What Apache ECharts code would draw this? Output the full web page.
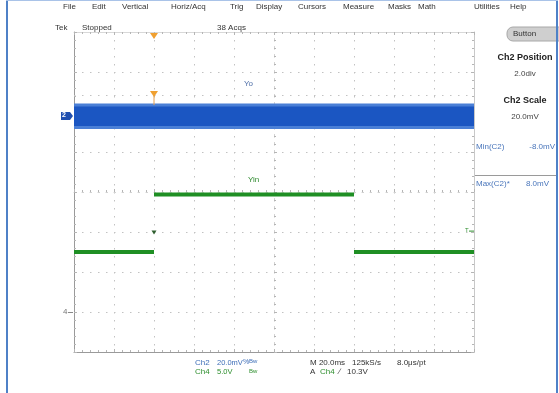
<!DOCTYPE html>
<html><head><meta charset="utf-8">
<script src="https://cdn.jsdelivr.net/npm/echarts@6/dist/echarts.min.js"></script>
<style>html,body{margin:0;padding:0;background:#fff}#c{width:559px;height:393px}</style>
</head><body><div id="c"></div>
<script>
// ---- labels ----
const menuItems = ['File','Edit','Vertical','Horiz/Acq','Trig','Display','Cursors','Measure','Masks','Math','Utilities','Help'];
const statusItems = ['Tek','Stopped','38 Acqs'];
const panelTexts = ['Ch2 Position','2.0div','Ch2 Scale','20.0mV'];
const measNames = ['Min(C2)','Max(C2)*'];
const measValues = ['-8.0mV','8.0mV'];
const waveLabels = ['Yo','Yin'];

// ---- scope settings ----
const timeScaleMs = 20;      // ms/div
const triggerDiv = 2;        // horizontal trigger position (div from left)
const ch2ScaleMv = 20;       // mV/div
const ch2PositionDiv = 2.0;
const ch4ScaleV = 5;         // V/div
const ch4PositionDiv = -3.0;
const triggerLevelV = 10.3;

// ---- Ch2 (Yo): noise envelope, mV ----
const ch2TimesMs = [-40, 160];
const ch2MeanMv = [-2, -2];
const ch2PeakLowMv = [-8.5, -8.5];
const ch2PeakHighMv = [4.2, 4.2];
const ch2CoreLowMv = [-7, -7];
const ch2CoreHighMv = [2.8, 2.8];

// ---- Ch4 (Yin): step, V ----
const ch4TimesMs = [-40, 0, 0, 100, 100, 160];
const ch4Volts = [7.5, 7.5, 14.7, 14.7, 7.5, 7.5];

const tx = t => triggerDiv + t / timeScaleMs;
const c2 = mv => ch2PositionDiv + mv / ch2ScaleMv;
const c4 = v => ch4PositionDiv + v / ch4ScaleV;

const peakBand = [[tx(ch2TimesMs[0]), tx(ch2TimesMs[1]), c2(ch2PeakLowMv[0]), c2(ch2PeakHighMv[0])]];
const coreBand = [[tx(ch2TimesMs[0]), tx(ch2TimesMs[1]), c2(ch2CoreLowMv[0]), c2(ch2CoreHighMv[0])]];
const ch4Data = [];
for (let i = 0; i < ch4TimesMs.length; i += 2) {
  if (i > 0) ch4Data.push([tx(ch4TimesMs[i]), '-']);
  ch4Data.push([tx(ch4TimesMs[i]), c4(ch4Volts[i])]);
  ch4Data.push([tx(ch4TimesMs[i+1]), c4(ch4Volts[i+1])]);
}

const G = {left:74, top:32, width:400, height:320};
const dotted = {color:'#c2c2c2', width:1, type:[1.5,6.5]};
const F = 'Liberation Sans, Arial, sans-serif';
const tickC = {color:'#b5b5b5'};

function valAxis(extra){
  return Object.assign({type:'value', axisLabel:{show:false},
    axisTick:{show:true, inside:true, length:3, lineStyle:tickC},
    minorTick:{show:true, splitNumber:5, length:2, lineStyle:tickC},
    splitLine:{show:false}}, extra);
}
function bandSeries(data, color, z){
  return {type:'custom', xAxisIndex:0, yAxisIndex:0, data:data, silent:true, z:z,
    encode:{x:[0,1], y:[2,3]},
    renderItem:function(params, api){
      const a = api.coord([api.value(0), api.value(3)]);
      const b = api.coord([api.value(1), api.value(2)]);
      return {type:'rect', shape:{x:a[0], y:a[1], width:b[0]-a[0], height:b[1]-a[1]}, style:{fill:color}};
    }};
}

const chart = echarts.init(document.getElementById('c'), null, {renderer:'canvas'});
const option = {
  animation:false,
  backgroundColor:'#fff',
  grid:[Object.assign({}, G), Object.assign({}, G)],
  xAxis:[
    valAxis({gridIndex:0, min:0, max:10, interval:1, position:'bottom',
      axisLine:{show:true, onZero:false, lineStyle:{color:'#9a9a9a'}}, splitLine:{show:true, lineStyle:dotted}}),
    valAxis({gridIndex:0, min:0, max:10, interval:1, position:'top',
      axisLine:{show:true, onZero:false, lineStyle:{color:'#d8d8d8'}}}),
    valAxis({gridIndex:1, min:-5, max:5, interval:1,
      axisLine:{show:true, onZero:true, lineStyle:{color:'#d0d0d0', type:[1.5,6.5]}}})
  ],
  yAxis:[
    valAxis({gridIndex:0, min:-4, max:4, interval:1, position:'left',
      axisLine:{show:true, onZero:false, lineStyle:{color:'#9a9a9a'}}, splitLine:{show:true, lineStyle:dotted}}),
    valAxis({gridIndex:0, min:-4, max:4, interval:1, position:'right',
      axisLine:{show:true, onZero:false, lineStyle:{color:'#c8c8c8'}}}),
    valAxis({gridIndex:1, min:-4, max:4, interval:1,
      axisLine:{show:true, onZero:true, lineStyle:{color:'#d0d0d0', type:[1.5,6.5]}}})
  ],
  series:[
    bandSeries(peakBand, '#4a7fd6', 3),
    bandSeries(coreBand, '#1b56c2', 4),
    {type:'line', xAxisIndex:0, yAxisIndex:0, data:ch4Data, symbol:'none', silent:true, connectNulls:false,
      lineStyle:{color:'#1f8f24', width:4}, z:5,
      markLine:{silent:true, symbol:'none', label:{show:false}, lineStyle:{color:'#c2c2c2', width:1, type:[1.5,6.5]},
        data:[{yAxis: c2(ch2PeakHighMv[0]) + 0.2}]}}
  ]
};
chart.setOption(option);

const px = (x,y) => chart.convertToPixel({gridIndex:0}, [x,y]);
const trigX = px(triggerDiv, 0)[0];
const ch2Y = px(0, c2(ch2MeanMv[0]))[1];
const ch4GndY = px(0, ch4PositionDiv)[1];
const trigLvlY = px(0, c4(triggerLevelV))[1];
const rightX = G.left + G.width;

const menuX = [63,92,122,171,230,256,298,343,388,418,474,510];
const g = [];
// blue frame
g.push({type:'rect', shape:{x:6, y:0, width:2, height:393}, style:{fill:'#4f81c7'}, z:100});
g.push({type:'rect', shape:{x:556, y:0, width:2, height:393}, style:{fill:'#4f81c7'}, z:100});
g.push({type:'rect', shape:{x:6, y:0, width:552, height:1}, style:{fill:'#a9c3e8'}, z:100});
menuItems.forEach((m,i)=>g.push({type:'text', left:menuX[i], top:3, style:{text:m, font:'8px '+F, fill:'#333'}}));
const statusX = [55, 82, 217];
statusItems.forEach((s,i)=>g.push({type:'text', left:statusX[i], top:24, style:{text:s, font:'8px '+F, fill:'#333'}}));
// Button
g.push({type:'rect', shape:{x:507, y:27, width:60, height:14, r:6}, style:{fill:'#cfcfcf', stroke:'#a8a8a8'}});
g.push({type:'text', left:513, top:30, style:{text:'Button', font:'8px '+F, fill:'#333'}});
// right panel
const pY = [53, 70, 96, 113];
panelTexts.forEach((t,i)=>g.push({type:'text', x:525, y:pY[i], style:{text:t, align:'center',
  font:(i%2===0?'bold 9px ':'8px ')+F, fill:i%2===0?'#222':'#444'}}));
const mY = [143, 180];
measNames.forEach((t,i)=>{
  g.push({type:'text', x:476, y:mY[i], style:{text:t, font:'8px '+F, fill:'#4a76bb'}});
  g.push({type:'text', x:i===0?555:549, y:mY[i], style:{text:measValues[i], align:'right', font:'8px '+F, fill:'#4a76bb'}});
});
g.push({type:'rect', shape:{x:rightX, y:175, width:556-rightX, height:1}, style:{fill:'#9a9a9a'}});
// waveform labels
g.push({type:'text', left:244, top:80, style:{text:waveLabels[0], font:'8px '+F, fill:'#4f6fa8'}});
g.push({type:'text', left:248, top:176, style:{text:waveLabels[1], font:'8px '+F, fill:'#2e8a2e'}});
// bottom readout
const B1 = 359, B2 = 368;
const bt = (x,y,t,c,s)=>g.push({type:'text', left:x, top:y, style:{text:t, font:(s||8)+'px '+F, fill:c}});
bt(195,B1,'Ch2','#3f6fb8'); bt(217,B1,'20.0mV','#3f6fb8',7.5); bt(243,B1,'%','#3f6fb8',7); bt(249,B1-1,'Bw','#3f6fb8',6);
bt(195,B2,'Ch4','#2e8f2e'); bt(217,B2,'5.0V','#2e8f2e',7.5); bt(249,B2,'Bw','#2e8f2e',6);
bt(310,B1,'M 20.0ms','#333'); bt(352,B1,'125kS/s','#333'); bt(397,B1,'8.0\u03bcs/pt','#333');
bt(310,B2,'A','#333'); bt(320,B2,'Ch4','#2e8f2e'); bt(339,B2,'\u2215','#333'); bt(347,B2,'10.3V','#333');
// trigger position markers (orange)
g.push({type:'polygon', shape:{points:[[trigX-4,G.top+1],[trigX+4,G.top+1],[trigX,G.top+7]]}, style:{fill:'#f0a030'}, z:20});
const oy = ch2Y - 25;
g.push({type:'polygon', shape:{points:[[trigX-4,oy],[trigX+4,oy],[trigX,oy+6]]}, style:{fill:'#f0a030'}, z:20});
g.push({type:'line', shape:{x1:trigX, y1:oy+5, x2:trigX, y2:oy+14}, style:{stroke:'#e6a050', lineWidth:1}, z:20});
// Ch2 ground marker
g.push({type:'polygon', shape:{points:[[61,ch2Y-4],[70,ch2Y-4],[73,ch2Y],[70,ch2Y+4],[61,ch2Y+4]]}, style:{fill:'#2050b0'}, z:20});
g.push({type:'text', left:62, top:ch2Y-4, style:{text:'2', font:'bold 7px '+F, fill:'#fff'}, z:21});
// Ch4 ground marker
g.push({type:'text', left:63, top:ch4GndY-4, style:{text:'4', font:'8px '+F, fill:'#777'}, z:20});
g.push({type:'line', shape:{x1:68, y1:ch4GndY+0.5, x2:73, y2:ch4GndY+0.5}, style:{stroke:'#888', lineWidth:1}, z:20});
// trigger level markers
g.push({type:'polygon', shape:{points:[[trigX-2.5,trigLvlY+1],[trigX+2.5,trigLvlY+1],[trigX,trigLvlY+5]]}, style:{fill:'#2f5f2f'}, z:20});
g.push({type:'text', left:rightX-9, top:trigLvlY-2, style:{text:'T', font:'6px '+F, fill:'#2e8f2e'}, z:20});
g.push({type:'line', shape:{x1:rightX-5, y1:trigLvlY+1.5, x2:rightX, y2:trigLvlY+1.5}, style:{stroke:'#2e8f2e', lineWidth:1}, z:20});
chart.setOption({graphic:g});
</script></body></html>
